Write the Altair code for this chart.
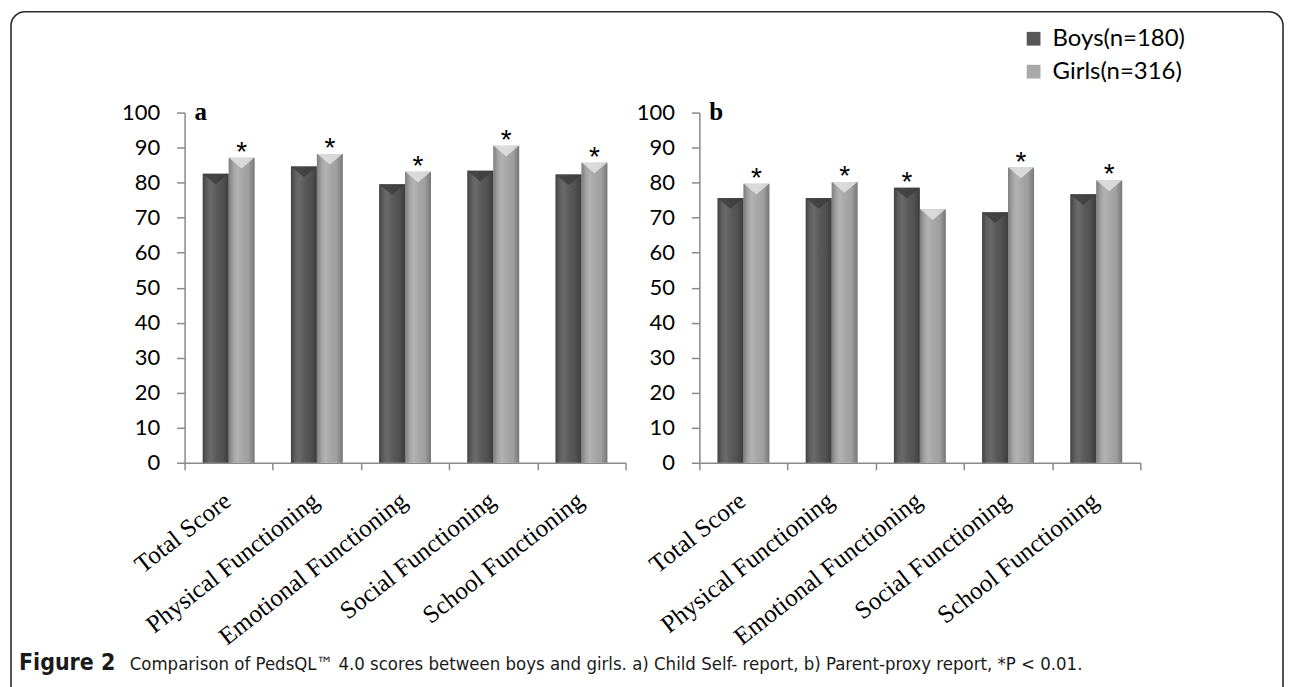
import altair as alt
import pandas as pd

categories = ["Total Score", "Physical Functioning", "Emotional Functioning",
              "Social Functioning", "School Functioning"]
groups = ["Boys(n=180)", "Girls(n=316)"]
boys_a = [82.5, 84.6, 79.5, 83.4, 82.3]
girls_a = [87.1, 88.2, 83.1, 90.5, 85.7]
boys_b = [75.6, 75.6, 78.5, 71.5, 76.7]
girls_b = [79.7, 80.2, 72.4, 84.3, 80.6]
# group whose bar carries the significance mark (*P < 0.01)
star_a = ["Girls(n=316)"] * 5
star_b = ["Girls(n=316)", "Girls(n=316)", "Boys(n=180)", "Girls(n=316)", "Girls(n=316)"]
y_ticks = list(range(0, 101, 10))
caption_bold = "Figure 2"
caption_rest = ("Comparison of PedsQL\u2122 4.0 scores between boys and girls. "
                "a) Child Self- report, b) Parent-proxy report, *P < 0.01.")

W, H = 442, 351
AXIS_GREY = "#8a8a8a"
CAP_FONT = "Liberation Sans Narrow, DejaVu Sans Condensed, sans-serif"


def build_df(boys, girls, stars):
    rows = []
    for i, c in enumerate(categories):
        for g, v in zip(groups, (boys[i], girls[i])):
            rows.append({"category": c, "group": g, "value": v,
                         "star": "*" if stars[i] == g else ""})
    return pd.DataFrame(rows)


def panel(boys, girls, stars, letter, extra_layers=()):
    df = build_df(boys, girls, stars)
    x = alt.X("category:N", sort=categories, title=None,
              scale=alt.Scale(paddingInner=0, paddingOuter=0),
              axis=alt.Axis(labelAngle=-38, labelAlign="right", labelBaseline="top",
                            labelFont="Liberation Serif", labelFontSize=25,
                            labelColor="black", labelPadding=18, labelOffset=-9,
                            labelLimit=0, tickBand="extent", tickSize=7,
                            tickColor=AXIS_GREY, domainColor=AXIS_GREY,
                            domainWidth=1.5, tickWidth=1.5))
    xo = alt.XOffset("group:N", sort=groups,
                     scale=alt.Scale(paddingOuter=0.7, paddingInner=0))
    y = alt.Y("value:Q", title=None, scale=alt.Scale(domain=[0, 100], nice=False),
              axis=alt.Axis(values=y_ticks, grid=False, tickSize=8, labelPadding=17,
                            labelFont="Lato", labelFontSize=22, labelColor="black",
                            tickColor=AXIS_GREY, domainColor=AXIS_GREY,
                            domainWidth=1.5, tickWidth=1.5))
    base = alt.Chart(df)
    bars = base.mark_bar().encode(
        x=x, xOffset=xo, y=y,
        color=alt.Color("group:N", sort=groups,
                        scale=alt.Scale(domain=groups, range=["#575757", "#a9a9a9"]),
                        legend=alt.Legend(title=None, orient="none", legendX=839,
                                          legendY=-86, symbolType="square",
                                          symbolSize=190, symbolStrokeWidth=0,
                                          labelFont="Lato", labelFontSize=24,
                                          labelColor="black", rowPadding=9,
                                          labelOffset=7)))
    shade = base.mark_bar(color=alt.Gradient(
        gradient="linear", x1=0, x2=1, y1=0, y2=0,
        stops=[alt.GradientStop(offset=0, color="rgba(0,0,0,0.28)"),
               alt.GradientStop(offset=0.35, color="rgba(255,255,255,0.10)"),
               alt.GradientStop(offset=0.75, color="rgba(0,0,0,0.05)"),
               alt.GradientStop(offset=1, color="rgba(0,0,0,0.30)")])
    ).encode(x=x, xOffset=xo, y=y)
    caps = base.mark_point(shape="M-1,0L1,0L0,0.85Z", filled=True, size=640,
                           opacity=0.8).encode(
        x=x, xOffset=xo, y=y,
        fill=alt.Fill("group:N", sort=groups,
                      scale=alt.Scale(domain=groups, range=["#3c3c3c", "#e6e6e6"]),
                      legend=None))
    star_marks = base.mark_text(font="Liberation Sans", fontSize=28,
                                baseline="alphabetic", dy=3, color="black").encode(
        x=x, xOffset=xo, y=y, text="star:N")
    letter_mark = alt.Chart(pd.DataFrame({"t": [letter]})).mark_text(
        font="Liberation Serif", fontWeight="bold", fontSize=25, align="left",
        baseline="alphabetic", color="black").encode(
        text="t:N", x=alt.value(10), y=alt.value(7))
    layers = list(extra_layers) + [bars, shade, caps, star_marks, letter_mark]
    return alt.layer(*layers).properties(width=W, height=H)


frame = alt.Chart(pd.DataFrame({"f": [0]})).mark_rect(
    fillOpacity=0, stroke="#2b2b2b", strokeWidth=1.6,
    cornerRadiusTopLeft=14, cornerRadiusTopRight=14).encode(
    x=alt.value(-174), x2=alt.value(1101), y=alt.value(-101), y2=alt.value(590))
cap1 = alt.Chart(pd.DataFrame({"t": [caption_bold]})).mark_text(
    font=CAP_FONT, fontWeight="bold", fontSize=23, align="left",
    baseline="alphabetic", color="#1a1a1a").encode(
    text="t:N", x=alt.value(-166), y=alt.value(559))
cap2 = alt.Chart(pd.DataFrame({"t": [caption_rest]})).mark_text(
    font=CAP_FONT, fontSize=18.5, align="left",
    baseline="alphabetic", color="#1a1a1a").encode(
    text="t:N", x=alt.value(-55), y=alt.value(559))

panel_a = panel(boys_a, girls_a, star_a, "a", extra_layers=(frame,))
panel_b = panel(boys_b, girls_b, star_b, "b")
panel_a = alt.layer(panel_a, cap1, cap2)

chart = alt.hconcat(panel_a, panel_b, spacing=74, bounds="flush").resolve_scale(
    color="shared", fill="shared").properties(
    padding={"left": 1, "top": 1, "right": 0, "bottom": 0}
).configure_view(stroke="transparent")

chart.save("out.html", embed_options={"renderer": "svg", "actions": False})
